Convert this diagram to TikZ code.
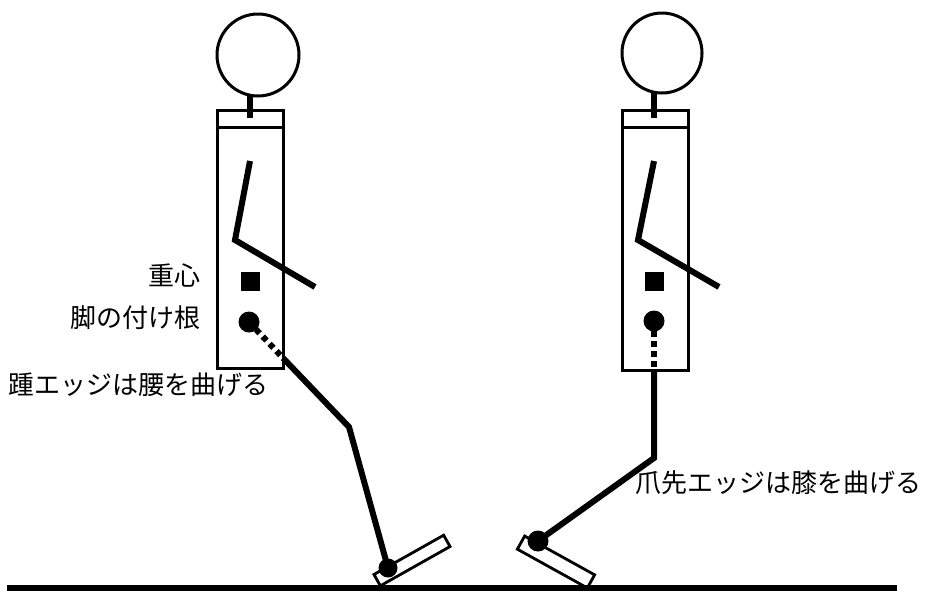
\documentclass[tikz,border=0pt]{standalone}
\usepackage{fontspec}
\newfontfamily\jpfont{Noto Sans CJK JP}
\usetikzlibrary{positioning}

\begin{document}
\begin{tikzpicture}[
    x=1pt, y=-1pt,
    head/.style={draw=black, line width=3pt},
    neck/.style={line width=6.5pt},
    body/.style={draw=black, line width=3pt},
    limb/.style={line width=6pt},
    hidden/.style={line width=6pt, dash pattern=on 5.5pt off 4.5pt},
    foot/.style={rectangle, draw=black, line width=2.8pt, inner sep=0pt, minimum width=80pt},
    joint/.style={fill=black},
    label/.style={font=\jpfont\fontsize{26}{30}\selectfont, inner sep=0pt}
]
\useasboundingbox (0,0) rectangle (925,590);

% --- Ground ---
\draw [line width=5.5pt] (7,588) -- (897,588);

% --- Left figure (heel edge) ---
\draw [head] (258,55) circle (41);
\draw [neck] (250,96) -- (250,118);
\draw [body] (217,110) rectangle (283,368);
\draw [body] (217,127) -- (283,127);
\draw [limb] (250,161) -- (235,240) -- (315,287);

\coordinate (hipL) at (249,322);
\coordinate (edgeL) at (283,358);
\coordinate (kneeL) at (349,427);
\coordinate (ankleL) at (388,568);

\fill [joint] (250.5,281) +(-9.5,-9.5) rectangle +(9.5,9.5);
\draw [hidden] (hipL) -- (edgeL);
\draw [limb] (edgeL) -- (kneeL) -- (ankleL);
\fill [joint] (hipL) circle (10.5);
\node (footL) at (412,560.5) [foot, minimum height=13pt, rotate=29.4] {};
\fill [joint] (ankleL) circle (9.5);

% --- Right figure (toe edge) ---
\draw [head] (662,53) circle (40);
\draw [neck] (654,93) -- (654,118);
\draw [body] (622,110) rectangle (688,370);
\draw [body] (622,127) -- (688,127);
\draw [limb] (654,161) -- (638,240) -- (719,287);

\coordinate (hipR) at (654,321);
\coordinate (edgeR) at (654,370);
\coordinate (kneeR) at (654,458);
\coordinate (ankleR) at (538,541);

\fill [joint] (654.5,281.5) +(-9.5,-9.5) rectangle +(9.5,9.5);
\draw [hidden] (hipR) -- (edgeR);
\draw [limb] (edgeR) -- (kneeR) -- (ankleR);
\fill [joint] (hipR) circle (10.5);
\node (footR) at (556,562) [foot, minimum height=15pt, rotate=-29] {};
\fill [joint] (ankleR) circle (10.5);

% --- Labels ---
\node (com) at (201,275) [label, anchor=east] {重心};
\node (root) at (201,318) [label, anchor=east] {脚の付け根};
\node (heel) at (8,385) [label, anchor=west] {踵エッジは腰を曲げる};
\node (toe) at (635,483) [label, anchor=west] {爪先エッジは膝を曲げる};

\end{tikzpicture}
\end{document}
